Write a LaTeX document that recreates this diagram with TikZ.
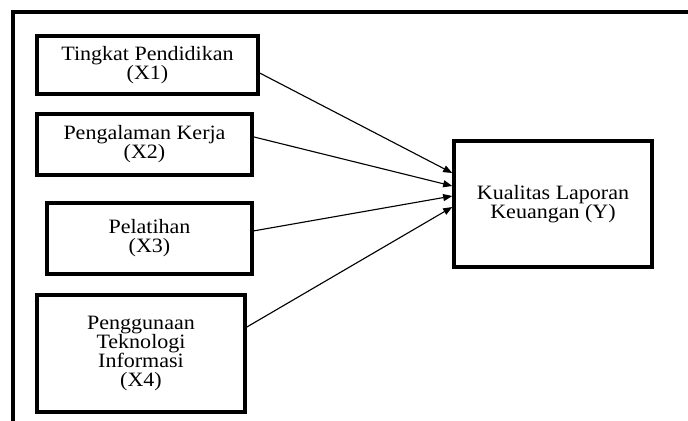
\documentclass[tikz,border=0pt]{standalone}
\usepackage{fontspec}
\setmainfont[FakeStretch=1.08]{Liberation Serif}
\usepackage{tikz}
\usetikzlibrary{arrows.meta}

\tikzset{kotak/.style={draw,line width=2.4pt,align=center,inner sep=0pt,
  font=\fontsize{14.5}{13.5}\selectfont},
  panah/.style={line width=0.8pt,-{Triangle[length=6.5pt,width=5pt]}}}

\begin{document}
\begin{tikzpicture}
\useasboundingbox (0,0) rectangle (17.2,-10.5);
\draw[line width=2.4pt](0.325,-10.6)--(0.325,-0.3)--(17.3,-0.3);
\node[kotak,minimum width=5.525cm,minimum height=1.45cm](X1)at(3.6875,-1.625){Tingkat Pendidikan\\(X1)};
\node[kotak,minimum width=5.375cm,minimum height=1.525cm](X2)at(3.6125,-3.6125){Pengalaman Kerja\\(X2)};
\node[kotak,minimum width=5.125cm,minimum height=1.775cm](X3)at(3.7375,-5.9625){Pelatihan\\(X3)};
\node[kotak,minimum width=5.2cm,minimum height=2.925cm](X4)at(3.525,-8.8375){Penggunaan\\Teknologi\\Informasi\\(X4)};
\node[kotak,minimum width=4.95cm,minimum height=3.15cm](Y)at(13.825,-5.1){Kualitas Laporan\\Keuangan (Y)};
\draw[panah]([yshift=-0.2cm]X1.east)--([yshift=0.775cm]Y.west);
\draw[panah]([yshift=0.19cm]X2.east)--([yshift=0.45cm]Y.west);
\draw[panah]([yshift=0.19cm]X3.east)--([yshift=0.2cm]Y.west);
\draw[panah]([yshift=0.66cm]X4.east)--([yshift=-0.075cm]Y.west);
\end{tikzpicture}
\end{document}
